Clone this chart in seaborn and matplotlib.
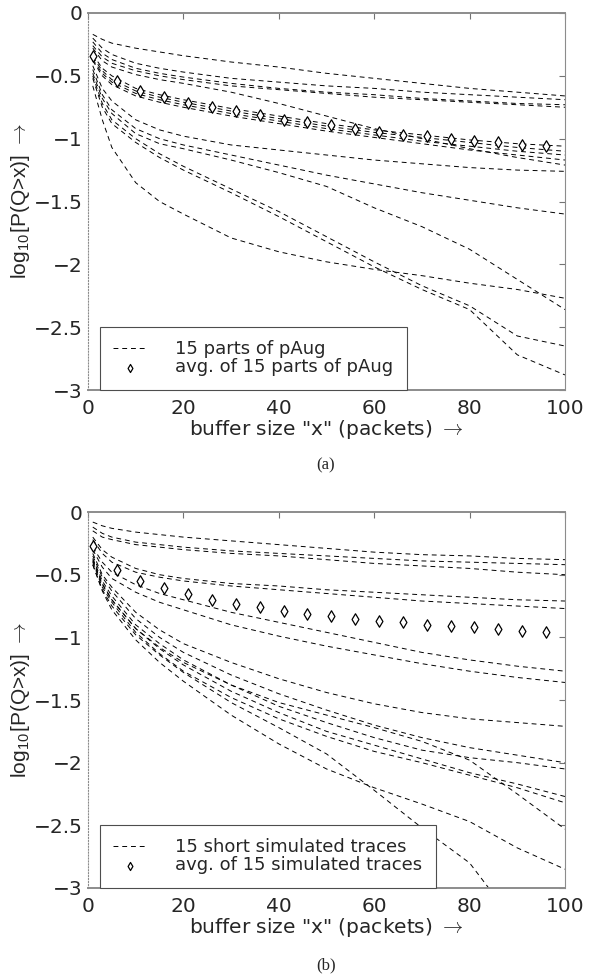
import numpy as np
import pandas as pd
import matplotlib
matplotlib.use("Agg")
import matplotlib.pyplot as plt
import seaborn as sns

# -----------------------------
# Data
# -----------------------------
buf_x = [1, 3, 5, 10, 15, 20, 30, 40, 50, 60, 70, 80, 90, 100]
avg_x = [1, 6, 11, 16, 21, 26, 31, 36, 41, 46, 51, 56, 61, 66, 71, 76, 81, 86, 91, 96]

# (a) 15 parts of pAug, log10 P(Q>x)
paug_parts = [
    [-0.17, -0.21, -0.24, -0.28, -0.31, -0.34, -0.39, -0.43, -0.48, -0.52, -0.56, -0.60, -0.63, -0.66],
    [-0.20, -0.28, -0.33, -0.40, -0.44, -0.47, -0.52, -0.55, -0.58, -0.60, -0.63, -0.65, -0.67, -0.69],
    [-0.23, -0.32, -0.37, -0.44, -0.48, -0.51, -0.56, -0.60, -0.63, -0.65, -0.68, -0.70, -0.72, -0.73],
    [-0.26, -0.35, -0.40, -0.46, -0.50, -0.53, -0.58, -0.61, -0.64, -0.67, -0.69, -0.71, -0.73, -0.75],
    [-0.28, -0.38, -0.43, -0.49, -0.53, -0.56, -0.63, -0.72, -0.82, -0.92, -1.00, -1.08, -1.15, -1.21],
    [-0.33, -0.44, -0.50, -0.60, -0.65, -0.69, -0.76, -0.82, -0.88, -0.93, -0.97, -1.01, -1.04, -1.06],
    [-0.35, -0.46, -0.53, -0.62, -0.67, -0.71, -0.78, -0.84, -0.90, -0.95, -0.99, -1.03, -1.07, -1.10],
    [-0.37, -0.48, -0.55, -0.64, -0.69, -0.73, -0.80, -0.86, -0.92, -0.97, -1.02, -1.06, -1.10, -1.13],
    [-0.38, -0.50, -0.57, -0.66, -0.71, -0.75, -0.82, -0.88, -0.94, -0.99, -1.04, -1.09, -1.13, -1.17],
    [-0.42, -0.60, -0.70, -0.85, -0.93, -0.98, -1.05, -1.09, -1.13, -1.17, -1.20, -1.23, -1.25, -1.26],
    [-0.45, -0.65, -0.77, -0.92, -1.00, -1.05, -1.13, -1.21, -1.29, -1.36, -1.43, -1.49, -1.55, -1.60],
    [-0.48, -0.68, -0.80, -0.96, -1.04, -1.08, -1.17, -1.27, -1.38, -1.55, -1.70, -1.88, -2.12, -2.36],
    [-0.50, -0.72, -0.85, -1.00, -1.12, -1.22, -1.40, -1.58, -1.78, -1.98, -2.17, -2.33, -2.57, -2.65],
    [-0.52, -0.75, -0.88, -1.03, -1.15, -1.25, -1.43, -1.62, -1.82, -2.02, -2.20, -2.36, -2.72, -2.88],
    [-0.58, -0.85, -1.07, -1.35, -1.50, -1.60, -1.79, -1.90, -1.98, -2.04, -2.09, -2.15, -2.20, -2.27],
]
paug_avg = [-0.34, -0.54, -0.62, -0.67, -0.72, -0.75, -0.78, -0.81, -0.85, -0.87,
            -0.89, -0.92, -0.95, -0.97, -0.98, -1.00, -1.02, -1.03, -1.05, -1.06]

# (b) 15 short simulated traces
sim_parts = [
    [-0.08, -0.11, -0.13, -0.16, -0.18, -0.20, -0.23, -0.26, -0.29, -0.32, -0.34, -0.35, -0.37, -0.38],
    [-0.12, -0.17, -0.20, -0.24, -0.26, -0.28, -0.31, -0.33, -0.35, -0.37, -0.39, -0.40, -0.41, -0.42],
    [-0.15, -0.20, -0.22, -0.26, -0.28, -0.30, -0.33, -0.35, -0.38, -0.41, -0.43, -0.45, -0.48, -0.50],
    [-0.20, -0.30, -0.36, -0.45, -0.50, -0.53, -0.57, -0.59, -0.62, -0.64, -0.66, -0.68, -0.70, -0.71],
    [-0.22, -0.33, -0.40, -0.48, -0.52, -0.55, -0.59, -0.62, -0.65, -0.68, -0.71, -0.73, -0.75, -0.77],
    [-0.28, -0.40, -0.48, -0.58, -0.65, -0.70, -0.80, -0.88, -0.96, -1.04, -1.12, -1.18, -1.23, -1.27],
    [-0.30, -0.44, -0.53, -0.64, -0.72, -0.78, -0.90, -0.99, -1.07, -1.14, -1.21, -1.27, -1.32, -1.36],
    [-0.33, -0.50, -0.60, -0.80, -0.94, -1.05, -1.20, -1.33, -1.44, -1.53, -1.60, -1.65, -1.68, -1.71],
    [-0.35, -0.52, -0.63, -0.85, -1.00, -1.12, -1.30, -1.45, -1.58, -1.70, -1.80, -1.88, -1.94, -2.00],
    [-0.37, -0.55, -0.67, -0.90, -1.05, -1.18, -1.38, -1.55, -1.68, -1.80, -1.90, -1.96, -2.00, -2.05],
    [-0.38, -0.57, -0.70, -0.93, -1.09, -1.22, -1.43, -1.60, -1.75, -1.86, -1.97, -2.08, -2.17, -2.27],
    [-0.40, -0.60, -0.72, -0.96, -1.13, -1.27, -1.48, -1.65, -1.79, -1.91, -2.00, -2.10, -2.20, -2.32],
    [-0.39, -0.58, -0.70, -0.93, -1.08, -1.20, -1.38, -1.52, -1.62, -1.72, -1.83, -1.98, -2.25, -2.53],
    [-0.42, -0.63, -0.78, -1.02, -1.20, -1.35, -1.62, -1.85, -2.05, -2.20, -2.33, -2.47, -2.68, -2.85],
    [-0.42, -0.62, -0.75, -0.98, -1.14, -1.28, -1.52, -1.72, -1.93, -2.22, -2.52, -2.80, -3.30, np.nan],
]
sim_avg = [-0.27, -0.46, -0.55, -0.61, -0.65, -0.70, -0.73, -0.76, -0.79, -0.81,
           -0.83, -0.85, -0.87, -0.88, -0.90, -0.91, -0.92, -0.93, -0.95, -0.96]

x_ticks = [0, 20, 40, 60, 80, 100]
y_ticks = [-3, -2.5, -2, -1.5, -1, -0.5, 0]
y_ticklabels = ["\u22123", "\u22122.5", "\u22122", "\u22121.5", "\u22121", "\u22120.5", "0"]

sns.set_style("white")
plt.rcParams['font.family'] = ['DejaVu Sans']
plt.rcParams['mathtext.fontset'] = 'cm'


def draw_panel(ax, parts, avg, line_label, avg_label):
    rows = []
    for i, curve in enumerate(parts):
        for xv, yv in zip(buf_x, curve):
            rows.append({"curve": i, "x": xv, "logp": yv})
    df = pd.DataFrame(rows).dropna()

    sns.lineplot(data=df, x="x", y="logp", units="curve", estimator=None,
                 color="black", lw=0.7, linestyle=(0, (5, 4)), ax=ax,
                 legend=False, sort=False)
    sns.scatterplot(x=avg_x, y=avg, marker="d", s=34, facecolor="white",
                    edgecolor="black", linewidth=0.9, ax=ax, zorder=3, legend=False)

    ax.set_xlim(0, 100)
    ax.set_ylim(-3, 0)
    ax.set_xticks(x_ticks)
    ax.set_yticks(y_ticks)
    ax.set_yticklabels(y_ticklabels)
    ax.tick_params(direction="in", length=4, color="0.45", labelsize=14.5,
                   top=True, right=True)
    ax.tick_params(axis="x", pad=6.5)
    ax.tick_params(axis="y", pad=4)
    for side, sp in ax.spines.items():
        sp.set_color("0.55")
        sp.set_linewidth(1.4 if side in ("top", "bottom") else 0.8)
    ax.spines["left"].set_linestyle(":")

    ax.set_xlabel('buffer size "x" (packets) $\\rightarrow$', fontsize=14.5, labelpad=0)
    ax.set_ylabel("log$_{\\mathregular{10}}$[P(Q>x)] $\\rightarrow$", fontsize=15,
                  family=['Liberation Sans', 'DejaVu Sans'], labelpad=1)

    handles = [ax.lines[0], ax.collections[0]]
    leg = ax.legend(handles, [line_label, avg_label], loc="lower left",
                    bbox_to_anchor=(0.025, 0.0), borderaxespad=0, fontsize=13,
                    frameon=True, fancybox=False, edgecolor="0.3", framealpha=1,
                    handlelength=1.8, handletextpad=1.6, labelspacing=0.0,
                    borderpad=0.75, scatterpoints=1, markerscale=0.7)
    leg.get_frame().set_linewidth(0.8)


fig = plt.figure(figsize=(5.97, 9.77), dpi=100)
ax_a = fig.add_axes([0.1474, 0.6008, 0.799, 0.3859])
ax_b = fig.add_axes([0.1474, 0.0911, 0.799, 0.3848])

draw_panel(ax_a, paug_parts, paug_avg, "15 parts of pAug", "avg. of 15 parts of pAug")
draw_panel(ax_b, sim_parts, sim_avg, "15 short simulated traces", "avg. of 15 simulated traces")

fig.text(0.546, 1 - 465 / 977, "(a)", ha="center", va="center", fontsize=12,
         family="Liberation Serif")
fig.text(0.546, 1 - 965 / 977, "(b)", ha="center", va="center", fontsize=12,
         family="Liberation Serif")

plt.savefig("out.png", dpi=100)
